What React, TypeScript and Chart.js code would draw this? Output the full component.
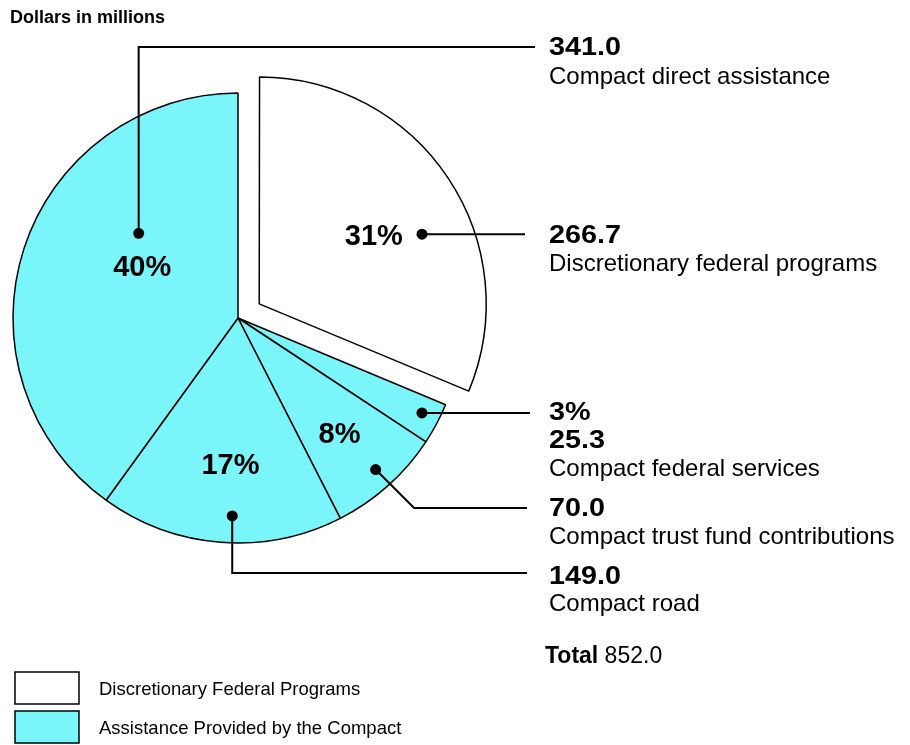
import React, { useEffect, useRef } from "react";
import { Chart, registerables } from "chart.js";

Chart.register(...registerables);

// ---- data ----
const categories = [
  "Discretionary federal programs",
  "Compact federal services",
  "Compact trust fund contributions",
  "Compact road",
  "Compact direct assistance",
];
const values = [266.7, 25.3, 70.0, 149.0, 341.0];
const sliceGroup = [0, 1, 1, 1, 1];
const groupNames = ["Discretionary Federal Programs", "Assistance Provided by the Compact"];
const groupColors = ["#FFFFFF", "#7AF5FA"];
const unitLabel = "Dollars in millions";
const totalLabel = "Total";

const FONT = '"Liberation Sans", Arial, Helvetica, sans-serif';

// label placement per slice (layout only)
type Place = {
  dot: [number, number];
  pct: [number, number] | null;
  route: "h" | "vh" | "diag";
  leaderY?: number;
  endX: number;
  textDy: number;
  step: number;
};
const placement: Place[] = [
  { dot: [0.593, 0.787], pct: [0.53, 0.59], route: "h", endX: 525, textDy: 2, step: 28.5 },
  { dot: [0.43, 0.92], pct: null, route: "h", endX: 530, textDy: 0, step: 28 },
  { dot: [0.486, 0.91], pct: [0.534, 0.69], route: "diag", leaderY: 508, endX: 527, textDy: 1, step: 28.5 },
  { dot: [0.456, 0.88], pct: [0.476, 0.66], route: "vh", leaderY: 573, endX: 527, textDy: 4, step: 27.5 },
  { dot: [0.656, 0.58], pct: [0.566, 0.48], route: "vh", leaderY: 47, endX: 535, textDy: 1, step: 29.5 },
];
const TEXT_X = 549;

function arcPoint(arc: any, f: number, rf: number): [number, number] {
  const a = arc.startAngle + f * (arc.endAngle - arc.startAngle);
  const half = (arc.startAngle + arc.endAngle) / 2;
  const off = (arc.options.offset || 0) / 4;
  const cx = arc.x + Math.cos(half) * off;
  const cy = arc.y + Math.sin(half) * off;
  return [cx + Math.cos(a) * rf * arc.outerRadius, cy + Math.sin(a) * rf * arc.outerRadius];
}

function wideText(ctx: any, t: string, x: number, y: number, sx: number) {
  ctx.save();
  ctx.translate(x, y);
  ctx.scale(sx, 1);
  ctx.fillText(t, 0, 0);
  ctx.restore();
}

const annotatePlugin = {
  id: "annotate",
  afterDraw(chart: any) {
    const ctx: any = chart.ctx;
    const meta = chart.getDatasetMeta(0);
    const total = values.reduce((s, v) => s + v, 0);
    ctx.save();
    ctx.fillStyle = "#000";
    ctx.strokeStyle = "#000";

    // title
    ctx.font = `bold 18px ${FONT}`;
    ctx.textAlign = "left";
    ctx.textBaseline = "alphabetic";
    ctx.fillText(unitLabel, 10, 23);

    meta.data.forEach((arc: any, i: number) => {
      const p = placement[i];
      const pctText = `${Math.round((values[i] / total) * 100)}%`;
      const [dx, dy] = arcPoint(arc, p.dot[0], p.dot[1]);
      // leader line
      let ly = dy;
      ctx.lineWidth = 2;
      ctx.beginPath();
      ctx.moveTo(dx, dy);
      if (p.route === "h") {
        ctx.lineTo(p.endX, dy);
      } else if (p.route === "vh") {
        ly = p.leaderY!;
        ctx.lineTo(dx, ly);
        ctx.lineTo(p.endX, ly);
      } else {
        ly = p.leaderY!;
        const d = ly - dy;
        ctx.lineTo(dx + d, ly);
        ctx.lineTo(p.endX, ly);
      }
      ctx.stroke();
      ctx.beginPath();
      ctx.arc(dx, dy, 5.5, 0, Math.PI * 2);
      ctx.fill();

      // percent label in slice
      if (p.pct) {
        const [tx, ty] = arcPoint(arc, p.pct[0], p.pct[1]);
        ctx.font = `bold 29px ${FONT}`;
        ctx.textAlign = "center";
        ctx.textBaseline = "middle";
        ctx.fillText(pctText, tx, ty);
      }

      // right-hand label block
      const lines: { t: string; bold: boolean }[] = [];
      if (!p.pct) lines.push({ t: pctText, bold: true });
      lines.push({ t: values[i].toFixed(1), bold: true });
      lines.push({ t: categories[i], bold: false });
      ctx.textAlign = "left";
      ctx.textBaseline = "middle";
      lines.forEach((ln, k) => {
        const y = ly + p.textDy + k * p.step;
        if (ln.bold) {
          ctx.font = `bold 25px ${FONT}`;
          wideText(ctx, ln.t, TEXT_X, y, 1.15);
        } else {
          ctx.font = `24px ${FONT}`;
          ctx.fillText(ln.t, TEXT_X, y);
        }
      });
    });

    // total
    ctx.textAlign = "left";
    ctx.textBaseline = "middle";
    ctx.font = `bold 23px ${FONT}`;
    const tw = ctx.measureText(totalLabel + " ").width;
    ctx.fillText(totalLabel + " ", 545, 657);
    ctx.font = `23px ${FONT}`;
    ctx.fillText(total.toFixed(1), 545 + tw, 657);

    // legend
    groupNames.forEach((g, k) => {
      const y = 672 + k * 39;
      ctx.fillStyle = groupColors[k];
      ctx.fillRect(15, y, 64, 32);
      ctx.strokeStyle = "#000";
      ctx.lineWidth = 1.5;
      ctx.strokeRect(15, y, 64, 32);
      ctx.fillStyle = "#000";
      ctx.font = `18.5px ${FONT}`;
      ctx.textBaseline = "middle";
      ctx.fillText(g, 99, y + 18);
    });
    ctx.restore();
  },
};

export default function App() {
  const ref = useRef<HTMLCanvasElement | null>(null);
  useEffect(() => {
    if (!ref.current) return;
    const chart = new Chart(ref.current, {
      type: "pie",
      data: {
        labels: categories,
        datasets: [
          {
            data: values,
            backgroundColor: sliceGroup.map((g) => groupColors[g]),
            borderColor: "#000",
            borderWidth: 1.5,
            offset: sliceGroup.map((g) => (g === 0 ? 102 : 0)),
            hoverOffset: 0,
          },
        ],
      },
      options: {
        responsive: false,
        animation: false,
        events: [],
        radius: 225,
        layout: { padding: { left: 0, top: 0, right: 434, bottom: 109 } },
        plugins: { legend: { display: false }, tooltip: { enabled: false } },
      } as any,
      plugins: [annotatePlugin],
    });
    return () => chart.destroy();
  }, []);
  return (
    <div style={{ position: "absolute", left: 0, top: 0, width: 910, height: 745, background: "#fff" }}>
      <canvas ref={ref} width={910} height={745} />
    </div>
  );
}
